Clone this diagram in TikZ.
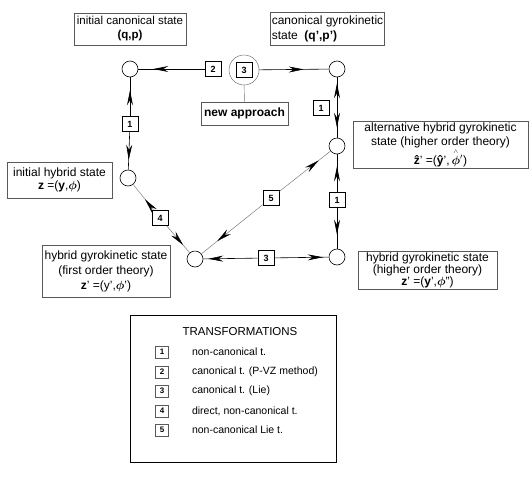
\documentclass[tikz,border=0pt]{standalone}
\usepackage{amsmath}
\usepackage{fontspec}
\setmainfont{Liberation Sans}
\usetikzlibrary{arrows.meta,decorations.markings,positioning}
\tikzset{
    gyro/.tip = {Stealth[length=15pt, width=6pt, inset=5pt, color=black]},
    state-dot/.style = {draw, circle, line width=0.6pt, minimum size=16pt, inner sep=0pt, fill=white},
    state-box/.style = {draw=black!65, line width=0.6pt, rectangle, fill=white, align=center, inner sep=1.5pt, font=\fontsize{12}{#1}\selectfont},
    state-box/.default = 13,
    num-box/.style = {draw, rectangle, line width=0.8pt, minimum width=16pt, minimum height=15pt, inner sep=0pt, fill=white, font=\fontsize{9}{9}\selectfont\bfseries},
    leg-box/.style = {draw=black!65, rectangle, line width=0.6pt, minimum width=13pt, minimum height=12pt, inner sep=0pt, font=\fontsize{8}{9}\selectfont\bfseries},
    leg-text/.style = {inner sep=0pt, font=\fontsize{10.5}{12}\selectfont},
    link/.style = {draw, line width=0.6pt},
    thin-link/.style = {draw=black!55, line width=0.45pt},
    head-at/.style = {decoration={markings, mark=at position -#1 with {\arrow{gyro}}}, postaction={decorate}},
    heads-at/.style 2 args = {decoration={markings, mark=at position #1 with {\arrowreversed{gyro}}, mark=at position -#2 with {\arrow{gyro}}}, postaction={decorate}},
}

\begin{document}
\begin{tikzpicture}[x=1pt, y=-1pt]
\useasboundingbox (0,0) rectangle (532,485);

\node[state-dot] (can-init) at (130,69) {};
\node[state-dot] (can-gyro) at (337,69) {};
\node[state-dot] (hyb-alt) at (337,146) {};
\node[state-dot] (hyb-high) at (337,257) {};
\node[state-dot] (hyb-init) at (128,178) {};
\node[state-dot] (hyb-first) at (195,259) {};

\node[num-box] (t2) at (213,69) {2};
\node[draw=black!55, line width=0.5pt, circle, minimum size=30pt] (new) at (244,70) {};
\node[num-box] (t3-new) at (244,70) {3};
\node[draw=black!65, line width=0.6pt, fill=white, minimum width=87pt, minimum height=23pt, font=\fontsize{12}{13}\selectfont\bfseries] (new-box) at (244.5,113.5) {new approach};
\draw[thin-link] (new) -- (new-box);

\node[num-box] (t1-left) at (130,124) {1};
\node[num-box] (t1-right) at (321,108) {1};
\node[num-box] (t1-low) at (337,200) {1};
\node[num-box] (t3) at (266,258) {3};
\node[num-box] (t4) at (160,218) {4};
\node[num-box] (t5) at (271,198) {5};

\draw[link, head-at=15pt] (t2) -- (can-init);
\draw[link, head-at=25pt] (new) -- (can-gyro);
\draw[link, head-at=13pt] (t1-left) -- (can-init);
\draw[link, head-at=10pt] (t1-left) -- (hyb-init);
\draw[link, heads-at={6pt}{10pt}] (can-gyro) -- (hyb-alt);
\draw[link, head-at=12pt] (t1-low) -- (hyb-alt);
\draw[link, head-at=14pt] (t1-low) -- (hyb-high);
\draw[link, head-at=6pt] (t3) -- (hyb-high);
\draw[link, head-at=5pt] (t3) -- (hyb-first);
\draw[thin-link, head-at=19pt] (t4) -- (hyb-init);
\draw[thin-link, head-at=10pt] (t4) -- (hyb-first);
\draw[thin-link, head-at=15pt] (t5) -- (hyb-alt);
\draw[thin-link, head-at=20pt] (t5) -- (hyb-first);

\node[state-box, font=\fontsize{11.5}{14}\selectfont, minimum width=112pt, minimum height=32pt] (lbl-can-init) at (130,29) {initial canonical state\\ \textbf{(q,p)}};
\node[state-box=15, align=left, minimum width=111pt, minimum height=33pt] (lbl-can-gyro) at (327.5,28.5) {canonical gyrokinetic\\ state\ \ \textbf{(q',p')}};
\node[state-box=13.5, minimum width=175pt, minimum height=39pt] (lbl-hyb-alt) at (440.5,145) {alternative hybrid gyrokinetic\\ state (higher order theory)\\ \textbf{\^z}' =(\textbf{\^y}',\,$\overset{\scriptscriptstyle\wedge}{\boldsymbol\phi}{}'$)};
\node[state-box=12, minimum width=139pt, minimum height=36pt] (lbl-hyb-high) at (427.5,270) {hybrid gyrokinetic state\\ (higher order theory)\\ \textbf{z}' =(\textbf{y}',$\boldsymbol\phi$'')};
\node[state-box=13, minimum width=105pt, minimum height=36pt] (lbl-hyb-init) at (59.5,180) {initial hybrid state\\ \textbf{z} =(\textbf{y},$\boldsymbol\phi$)};
\node[state-box=15, minimum width=128pt, minimum height=52pt] (lbl-hyb-first) at (106,271) {hybrid gyrokinetic state\\ (first order theory)\\ \textbf{z}' =(y',$\boldsymbol\phi$')};

\node[draw, line width=0.9pt, minimum width=206pt, minimum height=147pt] (legend) at (233,388.5) {};
\node[leg-text, font=\fontsize{11.5}{12}\selectfont] (leg-title) at (240,332) {TRANSFORMATIONS};
\node[leg-box] (leg-1) at (162,352) {1};
\node[leg-box] (leg-2) at (162,372) {2};
\node[leg-box] (leg-3) at (162,391) {3};
\node[leg-box] (leg-4) at (162,411) {4};
\node[leg-box] (leg-5) at (162,430) {5};
\node[leg-text, right=23pt of leg-1] {non-canonical t.};
\node[leg-text, right=23pt of leg-2] {canonical t. (P-VZ method)};
\node[leg-text, right=23pt of leg-3] {canonical t. (Lie)};
\node[leg-text, right=23pt of leg-4] {direct, non-canonical t.};
\node[leg-text, right=23pt of leg-5] {non-canonical Lie t.};
\end{tikzpicture}
\end{document}
